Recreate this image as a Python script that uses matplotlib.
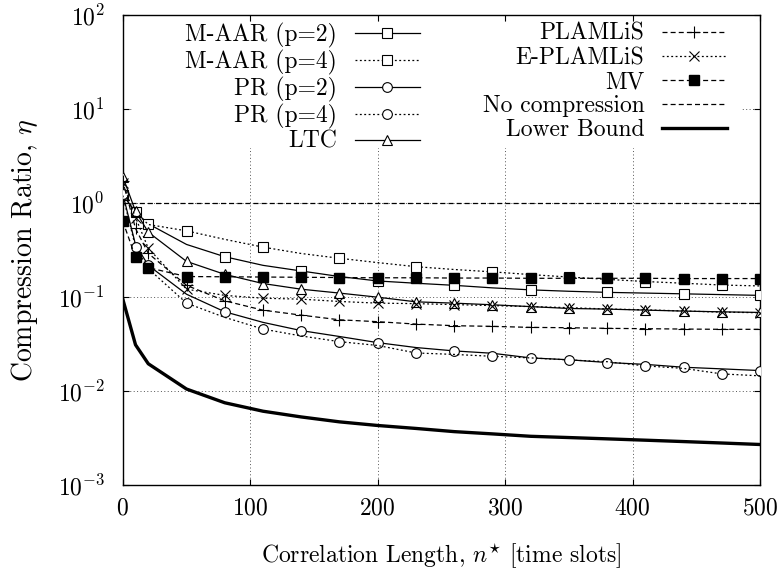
import matplotlib
matplotlib.use("Agg")
import matplotlib.pyplot as plt
from matplotlib.patches import Rectangle

plt.rcParams["font.family"] = "cmr10"
plt.rcParams["mathtext.fontset"] = "cm"
plt.rcParams["axes.formatter.use_mathtext"] = True
plt.rcParams["axes.unicode_minus"] = False

# correlation length n* [time slots]
n_star = [0, 10, 20, 50, 80, 110, 140, 170, 200, 230, 260, 290, 320, 350,
          380, 410, 440, 470, 500]

maar_p2 = [1.22, 0.80, 0.60, 0.362, 0.268, 0.217, 0.189, 0.165, 0.148, 0.140,
           0.133, 0.125, 0.119, 0.115, 0.112, 0.110, 0.108, 0.106, 0.104]
maar_p4 = [1.20, 0.80, 0.59, 0.505, 0.410, 0.339, 0.290, 0.258, 0.232, 0.210,
           0.196, 0.185, 0.173, 0.163, 0.154, 0.146, 0.140, 0.134, 0.131]
pr_p2 = [1.25, 0.36, 0.217, 0.107, 0.0696, 0.0537, 0.0439, 0.038, 0.0327,
         0.029, 0.0267, 0.0252, 0.0225, 0.0215, 0.0201, 0.0192, 0.0179,
         0.0172, 0.0165]
pr_p4 = [1.20, 0.34, 0.20, 0.086, 0.0607, 0.0456, 0.0385, 0.0335, 0.0305,
         0.0254, 0.0245, 0.0234, 0.0225, 0.0214, 0.0205, 0.0185, 0.0174,
         0.0152, 0.0145]
ltc = [1.91, 0.815, 0.489, 0.239, 0.174, 0.139, 0.121, 0.110, 0.0995, 0.0888,
       0.086, 0.0826, 0.079, 0.0755, 0.0743, 0.0725, 0.0708, 0.0695, 0.0685]
plamlis = [1.70, 0.535, 0.291, 0.133, 0.091, 0.0724, 0.0641, 0.0572, 0.0546,
           0.0515, 0.0495, 0.0487, 0.0475, 0.0471, 0.0464, 0.046, 0.0456,
           0.0453, 0.0453]
e_plamlis = [1.63, 0.70, 0.33, 0.121, 0.104, 0.097, 0.0948, 0.0896, 0.086,
             0.085, 0.083, 0.081, 0.079, 0.077, 0.0745, 0.073, 0.071, 0.069,
             0.068]
mv = [0.64, 0.265, 0.205, 0.165, 0.164, 0.163, 0.162, 0.161, 0.160, 0.160,
      0.159, 0.159, 0.158, 0.158, 0.158, 0.158, 0.157, 0.157, 0.157]
no_compression = [1.0] * len(n_star)
lower_bound = [0.095, 0.031, 0.0195, 0.0105, 0.0075, 0.0061, 0.0053, 0.0047,
               0.0043, 0.0040, 0.0037, 0.0035, 0.0033, 0.0032, 0.0031,
               0.0030, 0.0029, 0.0028, 0.0027]

even = list(range(0, len(n_star), 2))
odd = list(range(1, len(n_star), 2))

solid = "-"
dotted = (0, (1.5, 2))
dashed = (0, (4, 2.5))
FS = 17

fig, ax = plt.subplots(figsize=(7.82, 5.72), dpi=100)
fig.subplots_adjust(left=0.157, right=0.972, top=0.974, bottom=0.152)

open_mk = dict(markerfacecolor="white", markeredgecolor="black",
               markeredgewidth=0.8)

series = [
    ("M-AAR (p=2)", maar_p2, solid, "s", 7, even, open_mk),
    ("M-AAR (p=4)", maar_p4, dotted, "s", 7, odd, open_mk),
    ("PR (p=2)", pr_p2, solid, "o", 7, even, open_mk),
    ("PR (p=4)", pr_p4, dotted, "o", 7, odd, open_mk),
    ("LTC", ltc, solid, "^", 7, None, open_mk),
    ("PLAMLiS", plamlis, dashed, "+", 8, None, dict(markeredgewidth=0.8)),
    ("E-PLAMLiS", e_plamlis, dotted, "x", 7, None, dict(markeredgewidth=0.8)),
    ("MV", mv, dashed, "s", 7, None, dict(markerfacecolor="black",
                                          markeredgecolor="black")),
]

handles = []
for label, vals, ls, mk, ms, every, extra in series:
    ax.plot(n_star, vals, color="black", linestyle=ls, linewidth=0.9,
            marker=mk, markersize=ms, markevery=every, zorder=3, **extra)
    handles.append(plt.Line2D([], [], color="black", linestyle=ls,
                              linewidth=0.9, marker=mk, markersize=ms,
                              label=label, **extra))

h, = ax.plot(n_star, no_compression, color="black", linestyle=dashed,
             linewidth=0.9, label="No compression", zorder=3)
handles.append(h)
h, = ax.plot(n_star, lower_bound, color="black", linestyle="-",
             linewidth=2.4, label="Lower Bound", zorder=3)
handles.append(h)

ax.set_yscale("log")
ax.set_xlim(0, 500)
ax.set_ylim(1e-3, 1e2)
ax.set_xticks([0, 100, 200, 300, 400, 500])
ax.set_yticks([1e-3, 1e-2, 1e-1, 1e0, 1e1, 1e2])
ax.minorticks_off()
ax.tick_params(direction="in", top=True, right=True, length=4.5,
               width=0.8, labelsize=FS)
ax.tick_params(axis="x", pad=9)
ax.tick_params(axis="y", pad=13)
ax.grid(True, color="#555555", linestyle=(0, (1, 2.5)), linewidth=0.7)
ax.set_axisbelow(True)
for sp in ax.spines.values():
    sp.set_linewidth(1.0)

ax.set_xlabel(r"Correlation Length, $n^{\star}$ [time slots]", fontsize=FS)
ax.xaxis.set_label_coords(0.5, -0.12)
ax.set_ylabel(r"Compression Ratio, $\eta$", fontsize=20)
ax.yaxis.set_label_coords(-0.13, 0.5)

# white key area hides the grid behind the legend
ax.add_patch(Rectangle((0.015, 0.717), 0.955, 0.268, transform=ax.transAxes,
                       facecolor="white", edgecolor="none", zorder=1))

leg_kw = dict(markerfirst=False, loc="upper right", fontsize=FS,
              frameon=False, handlelength=2.75, handletextpad=0.75,
              labelspacing=0.08, borderpad=0, borderaxespad=0)
leg1 = ax.legend(handles=handles[:5], bbox_to_anchor=(0.466, 0.983),
                 **leg_kw)
ax.add_artist(leg1)
leg2 = ax.legend(handles=handles[5:], bbox_to_anchor=(0.948, 0.983),
                 **leg_kw)
leg1.set_zorder(5)
leg2.set_zorder(5)

fig.savefig("out.png", dpi=100)
